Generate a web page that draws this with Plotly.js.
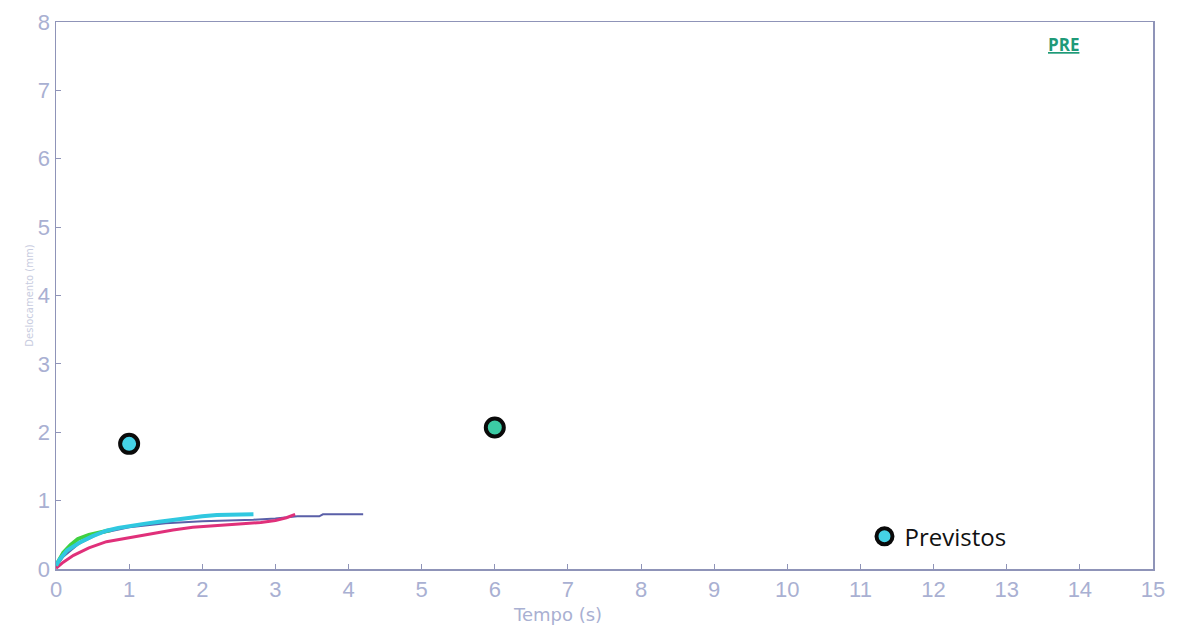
<!DOCTYPE html>
<html>
<head>
<meta charset="utf-8">
<script src="https://cdn.plot.ly/plotly-3.0.1.min.js"></script>
<style>html,body{margin:0;padding:0;background:#fff;}#chart{width:1184px;height:641px;}</style>
</head>
<body>
<div id="chart"></div>
<script>
// Curves (time in s, value)
const cyanT   = [0, 0.05, 0.15, 0.33, 0.5, 0.69, 0.85, 1.0, 1.2, 1.41, 1.6, 1.74, 2.0, 2.2, 2.45, 2.7];
const cyanV   = [0.05, 0.14, 0.27, 0.39, 0.48, 0.56, 0.60, 0.63, 0.66, 0.69, 0.72, 0.74, 0.77, 0.79, 0.80, 0.80];
const greenT  = [0, 0.05, 0.1, 0.2, 0.3, 0.45, 0.6, 0.75];
const greenV  = [0.05, 0.16, 0.24, 0.35, 0.44, 0.50, 0.54, 0.57];
const magT    = [0, 0.1, 0.24, 0.45, 0.69, 0.85, 1.0, 1.2, 1.41, 1.6, 1.87, 2.1, 2.33, 2.55, 2.8, 3.0, 3.15, 3.27];
const magV    = [0.01, 0.10, 0.20, 0.31, 0.40, 0.43, 0.46, 0.50, 0.54, 0.57, 0.61, 0.63, 0.65, 0.66, 0.68, 0.71, 0.75, 0.80];
const blueT   = [0, 0.1, 0.3, 0.6, 1.0, 1.5, 2.0, 2.4, 2.7, 3.0, 3.3, 3.6, 3.65, 4.2];
const blueV   = [0.03, 0.18, 0.36, 0.52, 0.61, 0.67, 0.70, 0.71, 0.72, 0.74, 0.77, 0.77, 0.80, 0.80];
// Predicted points
const prevT   = [1.0, 6.0];
const prevV   = [1.83, 2.07];
const prevFill = ['#45d2e6', '#3ccba4'];

const xTicks = [0,1,2,3,4,5,6,7,8,9,10,11,12,13,14,15];
const yTicks = [0,1,2,3,4,5,6,7,8];

const traces = [
  {x: blueT, y: blueV, mode: 'lines', line: {color: '#5a5fa8', width: 2}, showlegend: false},
  {x: magT, y: magV, mode: 'lines', line: {color: '#e0307a', width: 3}, showlegend: false},
  {x: greenT, y: greenV, mode: 'lines', line: {color: '#40d040', width: 4}, showlegend: false},
  {x: cyanT, y: cyanV, mode: 'lines', line: {color: '#30c8e0', width: 4}, showlegend: false},
  {x: prevT, y: prevV, mode: 'markers', name: 'Previstos',
   marker: {size: 18, color: prevFill, line: {color: '#0a0a0a', width: 4}}}
];

const axisCommon = {
  showline: true, mirror: true, linecolor: '#8f94b8', linewidth: 1.5,
  showgrid: false, zeroline: false, ticks: 'inside', ticklen: 5, tickcolor: '#8f94b8',
  tickfont: {family: 'Liberation Sans', size: 22, color: '#a9b0d2'}
};

const layout = {
  width: 1184, height: 641,
  margin: {l: 56, r: 31, t: 22, b: 72},
  paper_bgcolor: '#ffffff', plot_bgcolor: '#ffffff',
  xaxis: Object.assign({}, axisCommon, {range: [0, 15], tickvals: xTicks, ticktext: xTicks.map(String)}),
  yaxis: Object.assign({}, axisCommon, {range: [0, 8], tickvals: yTicks, ticktext: yTicks.map(String),
    title: {text: 'Deslocamento (mm)', font: {family: 'DejaVu Sans', size: 10, color: '#c8cce0'}, standoff: 2}}),
  showlegend: true,
  legend: {x: 0.737, y: 0.059, xanchor: 'left', yanchor: 'middle', bgcolor: 'rgba(0,0,0,0)',
    font: {family: 'Open Sans', size: 24, color: '#111'}, itemsizing: 'trace'},
  annotations: [
    {text: '<b><u>PRE</u></b>', xref: 'paper', yref: 'paper', x: 0.918, y: 0.958,
     xanchor: 'center', yanchor: 'middle', showarrow: false,
     font: {family: 'Open Sans', size: 17, color: '#1f9a78'}},
    {text: 'Tempo (s)', xref: 'paper', yref: 'paper', x: 0.4576, y: -0.06,
     xanchor: 'center', yanchor: 'top', showarrow: false,
     font: {family: 'DejaVu Sans', size: 18, color: '#a9b0d2'}}
  ]
};

Plotly.newPlot('chart', traces, layout, {displayModeBar: false, staticPlot: true});
</script>
</body>
</html>
